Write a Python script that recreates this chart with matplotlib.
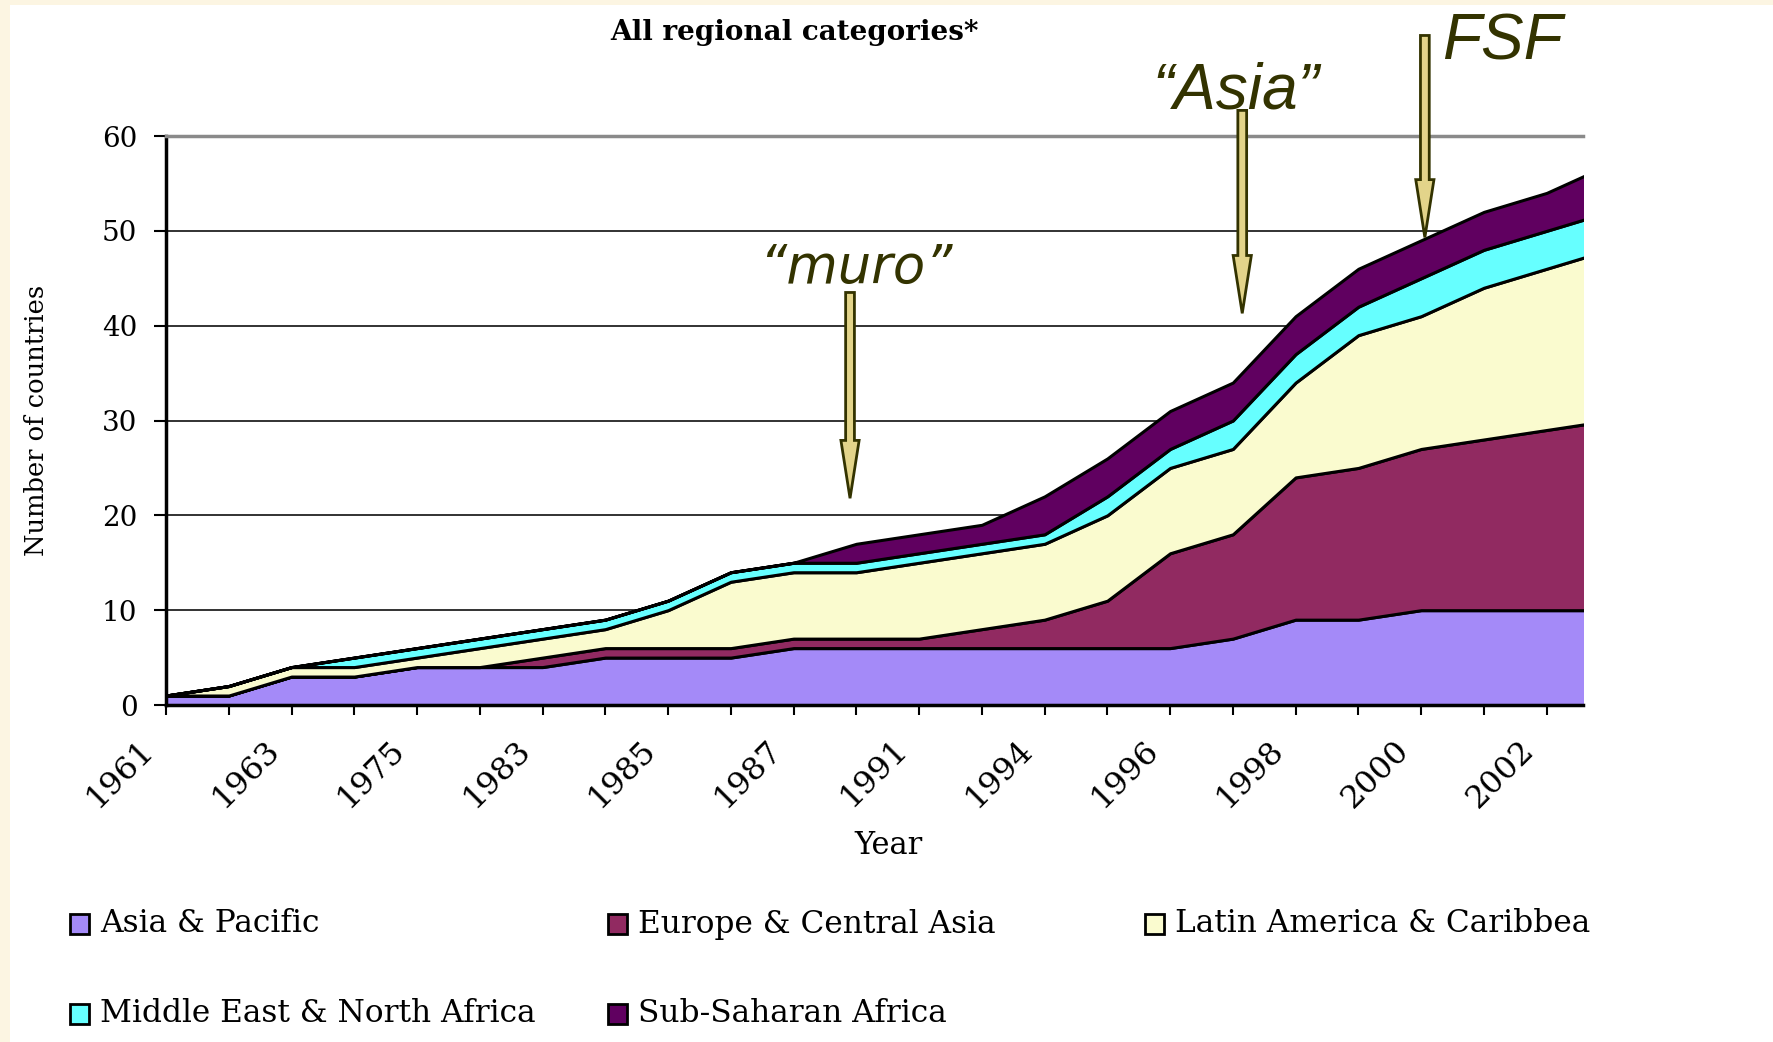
import numpy as np
import matplotlib.pyplot as plt
from matplotlib.patches import Rectangle, FancyArrow
from matplotlib.transforms import Bbox, ScaledTranslation

# category labels, Excel only printed every second one
years = ['1961', '', '1963', '', '1975', '', '1983', '', '1985', '', '1987', '',
         '1991', '', '1994', '', '1996', '', '1998', '', '2000', '', '2002', '']

# number of countries per region (stacked)
asia_pacific = [1, 1, 3, 3, 4, 4, 4, 5, 5, 5, 6, 6, 6, 6, 6, 6, 6, 7, 9, 9, 10, 10, 10, 10]
europe_central_asia = [0, 0, 0, 0, 0, 0, 1, 1, 1, 1, 1, 1, 1, 2, 3, 5, 10, 11, 15, 16, 17, 18, 19, 20]
latin_america = [0, 1, 1, 1, 1, 2, 2, 2, 4, 7, 7, 7, 8, 8, 8, 9, 9, 9, 10, 14, 14, 16, 17, 18]
middle_east = [0, 0, 0, 1, 1, 1, 1, 1, 1, 1, 1, 1, 1, 1, 1, 2, 2, 3, 3, 3, 4, 4, 4, 4]
sub_saharan = [0, 0, 0, 0, 0, 0, 0, 0, 0, 0, 0, 2, 2, 2, 4, 4, 4, 4, 4, 4, 4, 4, 4, 5]

regions = ['Asia & Pacific', 'Europe & Central Asia', 'Latin America & Caribbean',
           'Middle East & North Africa', 'Sub-Saharan Africa']
colors = ['#A48AF8', '#912A61', '#FAFBCF', '#66FFFF', '#600060']

# arrow annotations
notes = ['\u201cmuro\u201d', '\u201cAsia\u201d', 'FSF']

W, H = 1773, 1042
fig = plt.figure(figsize=(W / 100, H / 100), dpi=100, facecolor='#FCF5E2')
# white slide panel
fig.patches.append(Rectangle((10 / W, 0), 1, (H - 5) / H, transform=fig.transFigure,
                             facecolor='white', edgecolor='none', zorder=-5))

ax = fig.add_axes([166 / W, 337 / H, (1583 - 166) / W, (705 - 136) / H])
x = np.arange(len(years))
ax.stackplot(x, asia_pacific, europe_central_asia, latin_america, middle_east, sub_saharan,
             colors=colors, edgecolor='black', linewidth=2.2, zorder=2)

serif = 'DejaVu Serif'
ax.set_xticks(x)
ax.set_xticklabels(years, rotation=45, ha='right', rotation_mode='anchor',
                   family=serif, fontsize=23)
# the picture is cut off on the right, so the view stops short of the last point
ax.set_xlim(0, 22.58)
ax.set_ylim(0, 60)
ax.set_yticks(range(0, 61, 10))
ax.grid(axis='y', color='#222222', linewidth=1.3)
ax.set_axisbelow(True)
ax.set_facecolor('white')

ax.spines['right'].set_visible(False)
ax.spines['top'].set_color('#8a8a8a')
ax.spines['top'].set_linewidth(2.5)
ax.spines['left'].set_linewidth(2.5)
ax.spines['bottom'].set_linewidth(2.5)

ax.tick_params(axis='x', direction='out', length=7, width=1.5, pad=14)
ax.tick_params(axis='y', direction='out', length=8.6, width=1.5, pad=12)
for lab in ax.get_yticklabels():
    lab.set_family(serif)
    lab.set_fontsize(20)
shift = ScaledTranslation(-28 / 100, 0, fig.dpi_scale_trans)
for lab in ax.get_xticklabels():
    lab.set_transform(lab.get_transform() + shift)

fig.text(795 / W, 1 - 32 / H, 'All regional categories*', ha='center', va='center',
         family=serif, fontsize=20, fontweight='bold')
fig.text(37 / W, 1 - 420 / H, 'Number of countries', rotation=90, ha='center', va='center',
         family=serif, fontsize=18.5)
fig.text(888 / W, 1 - 845 / H, 'Year', ha='center', va='center', family=serif, fontsize=22)

# legend drawn by hand, two rows x three columns, cut at the crop line
crop = Bbox.from_extents(0, 0, 1590, H)
leg_pos = [(70, 924), (608, 924), (1145, 924), (70, 1014), (608, 1014)]
for (lx, ly), name, c in zip(leg_pos, regions, colors):
    fig.patches.append(Rectangle((lx / W, 1 - (ly + 10) / H), 19 / W, 20 / H,
                                 transform=fig.transFigure, facecolor=c,
                                 edgecolor='black', linewidth=2))
    t = fig.text((lx + 30) / W, 1 - ly / H, name, ha='left', va='center',
                 family=serif, fontsize=22.5)
    t.set_clip_box(crop)
    t.set_clip_on(True)

# arrows + labels
arrow_x = [10.9, 17.15, 20.06]
arrow_top = [43.5, 62.7, 70.6]
arrow_tip = [21.8, 41.3, 49.3]
text_xy = [(10.99, 46.1), (17.05, 64.7), (21.3, 69.9)]
text_font = ['DejaVu Sans', 'Liberation Sans', 'Liberation Sans']
text_size = [38, 46, 46]
for ax_, top, tip, (tx, ty), note, fam, fs in zip(arrow_x, arrow_top, arrow_tip,
                                                 text_xy, notes, text_font, text_size):
    arr = FancyArrow(ax_, top, 0, tip - top, width=0.14, head_width=0.29,
                     head_length=6.1, length_includes_head=True,
                     facecolor='#E3D48A', edgecolor='#333300', linewidth=2,
                     clip_on=False, zorder=5)
    ax.add_patch(arr)
    ax.text(tx, ty, note, ha='center', va='center', family=fam, fontsize=fs,
            style='italic', color='#333300', clip_on=False, zorder=6)

fig.savefig('out.png', dpi=100, facecolor=fig.get_facecolor())
